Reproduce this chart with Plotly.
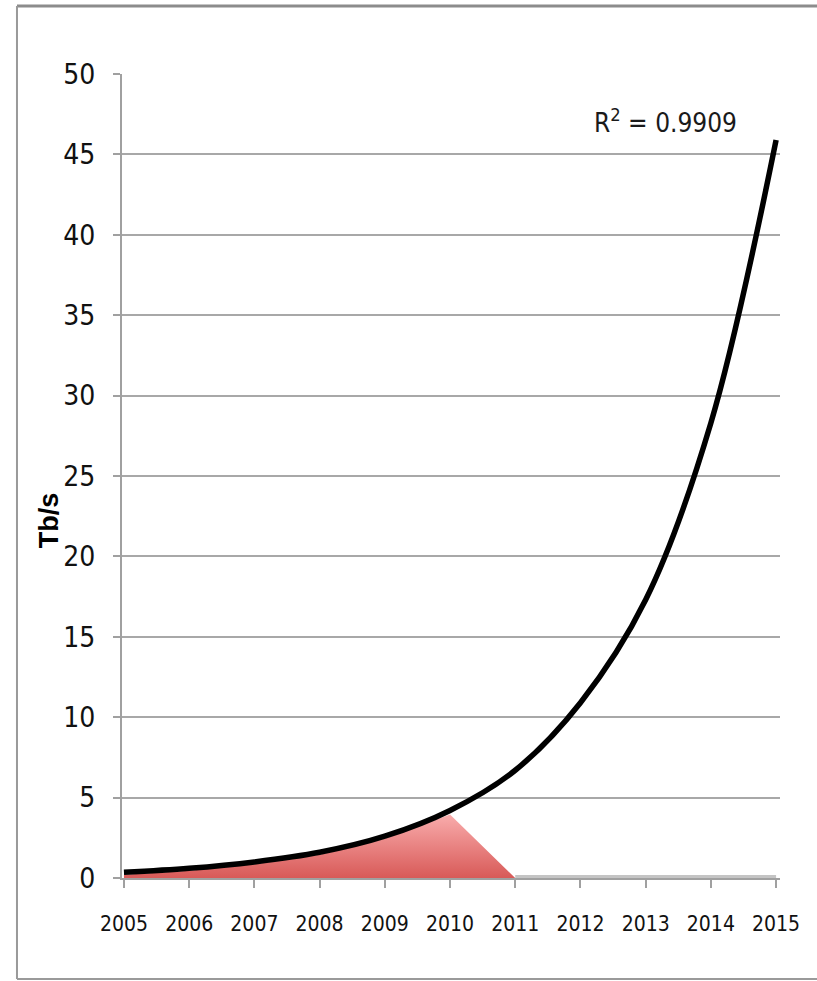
import plotly.graph_objects as go

years = [2005, 2006, 2007, 2008, 2009, 2010, 2011, 2012, 2013, 2014, 2015]
traffic_tbps = [0.35, 0.6, 1.0, 1.6, 2.6, 4.2, 6.7, 10.9, 17.3, 28.3, 45.9]

area_years = [2005, 2006, 2007, 2008, 2009, 2010, 2011]
area_vals = [0.2, 0.45, 0.85, 1.45, 2.45, 3.95, 0.0]

flat_years = [2011, 2015]
flat_vals = [0.0, 0.0]

y_ticks = [0, 5, 10, 15, 20, 25, 30, 35, 40, 45, 50]
r2_label = "R<sup>2</sup> = 0.9909"
y_title = "Tb/s"

NARROW = "Liberation Sans Narrow, DejaVu Sans Condensed, Roboto Condensed, Arial Narrow, sans-serif"

fig = go.Figure()

fig.add_trace(go.Scatter(
    x=area_years, y=area_vals, mode="lines", line=dict(width=0, shape="linear"),
    fill="tozeroy",
    fillgradient=dict(type="vertical",
                      colorscale=[[0, "#d85a58"], [1, "#f9acac"]]),
    hoverinfo="skip", showlegend=False,
))

fig.add_trace(go.Scatter(
    x=flat_years, y=flat_vals, mode="lines",
    line=dict(color="#c4c4c4", width=6),
    hoverinfo="skip", showlegend=False, cliponaxis=False,
))

fig.add_trace(go.Scatter(
    x=years, y=traffic_tbps, mode="lines",
    line=dict(color="#000000", width=5.5, shape="spline", smoothing=1.0),
    showlegend=False, cliponaxis=False,
))

fig.add_annotation(x=2013.3, y=47.1, xref="x", yref="y", text=r2_label,
                   showarrow=False, font=dict(family=NARROW, size=26, color="#1a1a1a"))

fig.add_annotation(x=-0.111, y=0.445, xref="paper", yref="paper", text="<b>" + y_title + "</b>",
                   xanchor="center", yanchor="middle",
                   textangle=-90, showarrow=False,
                   font=dict(family="Liberation Sans, Arial, sans-serif", size=27, color="#000"))

# border
fig.add_shape(type="line", xref="paper", yref="paper", x0=-0.1596, x1=1.07, y0=1.0846, y1=1.0846,
              line=dict(color="#8c8c8c", width=3))
fig.add_shape(type="line", xref="paper", yref="paper", x0=-0.1596, x1=-0.1596, y0=1.0846, y1=-0.1256,
              line=dict(color="#9a9a9a", width=2))
fig.add_shape(type="line", xref="paper", yref="paper", x0=-0.1596, x1=1.07, y0=-0.1256, y1=-0.1256,
              line=dict(color="#9a9a9a", width=2))

fig.update_layout(
    width=817, height=981,
    margin=dict(l=122, r=37, t=74, b=103),
    paper_bgcolor="white", plot_bgcolor="white",
    xaxis=dict(
        range=[2004.97, 2015.06], tickmode="array", tickvals=years,
        ticktext=[str(y) for y in years],
        showgrid=False, showline=True, linecolor="#a0a0a0", linewidth=2,
        ticks="outside", ticklen=8, tickcolor="#a0a0a0", tickwidth=2,
        ticklabelstandoff=18,
        tickfont=dict(family=NARROW, size=21, color="#111"),
        zeroline=False,
    ),
    yaxis=dict(
        range=[0, 50], tickmode="array", tickvals=y_ticks,
        showgrid=True, gridcolor="#a8a8a8", gridwidth=2,
        showline=True, linecolor="#a0a0a0", linewidth=2,
        ticks="outside", ticklen=7, tickcolor="#a0a0a0", tickwidth=2,
        ticklabelstandoff=12,
        tickfont=dict(family=NARROW, size=28, color="#111"),
        zeroline=False,
    ),
)

fig.write_html("out.html", config={"displayModeBar": False},
               post_script="document.body.style.margin='0';document.body.style.overflow='hidden';")
